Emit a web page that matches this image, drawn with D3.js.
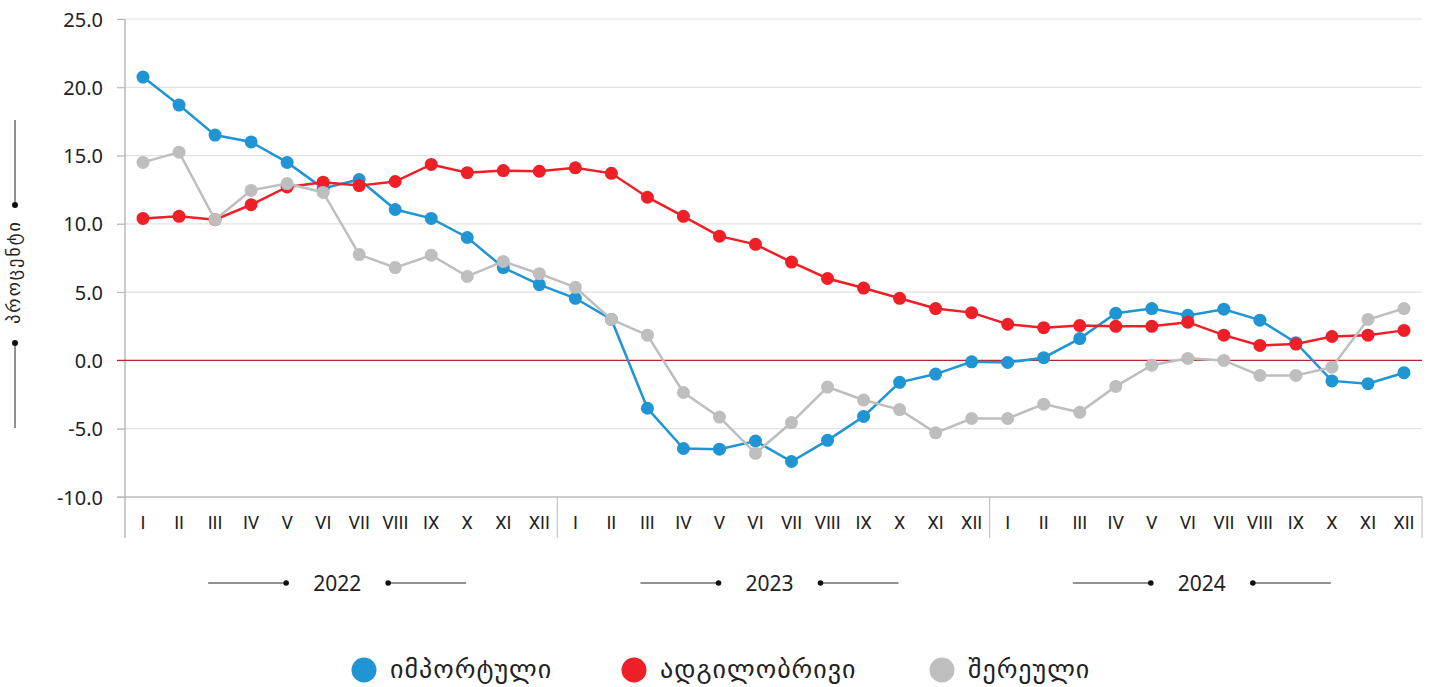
<!DOCTYPE html>
<html>
<head>
<meta charset="utf-8">
<script src="https://cdn.jsdelivr.net/npm/d3@7"></script>
<style>
  body { margin: 0; background: #fff; }
  text { font-family: "Noto Sans", "DejaVu Sans", sans-serif; fill: #222; }
  .geo { font-family: "DejaVu Sans", sans-serif; }
  .month { font-family: "Roboto", "Noto Sans", sans-serif; }
</style>
</head>
<body>
<div id="chart"></div>
<script>
// months, years and series (percent)
const months = ["I","II","III","IV","V","VI","VII","VIII","IX","X","XI","XII"];
const years = ["2022","2023","2024"];
const yTicks = [-10, -5, 0, 5, 10, 15, 20, 25];

const imported = [20.75, 18.7, 16.5, 16.0, 14.5, 12.6, 13.25, 11.05, 10.4, 9.0, 6.8, 5.55,
                  4.55, 3.0, -3.5, -6.45, -6.5, -5.9, -7.4, -5.85, -4.1, -1.6, -1.0, -0.1,
                  -0.15, 0.2, 1.6, 3.45, 3.8, 3.3, 3.75, 2.95, 1.3, -1.5, -1.7, -0.9];
const local = [10.4, 10.55, 10.3, 11.4, 12.7, 13.05, 12.8, 13.1, 14.35, 13.75, 13.9, 13.85,
               14.1, 13.7, 11.95, 10.55, 9.1, 8.5, 7.2, 6.0, 5.3, 4.55, 3.8, 3.5,
               2.65, 2.4, 2.55, 2.5, 2.5, 2.8, 1.85, 1.1, 1.2, 1.75, 1.85, 2.2];
const mixed = [14.5, 15.25, 10.3, 12.45, 12.95, 12.3, 7.75, 6.8, 7.7, 6.15, 7.25, 6.35,
               5.35, 3.0, 1.85, -2.35, -4.15, -6.8, -4.55, -1.95, -2.9, -3.6, -5.3, -4.25,
               -4.25, -3.2, -3.8, -1.9, -0.35, 0.15, 0.0, -1.1, -1.1, -0.5, 3.0, 3.8];

const seriesNames = ["იმპორტული", "ადგილობრივი", "შერეული"];
const colors = ["#1f95d3", "#ee1f26", "#bebebe"];
const seriesData = [imported, local, mixed];

const W = 1432, H = 687;
const mLeft = 125, mRight = 1422, mTop = 19, mBottom = 497;

const svg = d3.select("#chart").append("svg")
  .attr("width", W).attr("height", H);

const idx = d3.range(years.length * months.length);
const x = d3.scaleBand().domain(idx).range([mLeft, mRight]);
const y = d3.scaleLinear().domain([-10, 25]).range([mBottom, mTop]);
const cx = i => x(i) + x.bandwidth() / 2;

// grid
svg.append("g").selectAll("line").data(yTicks.filter(d => d !== 0 && d !== -10)).join("line")
  .attr("x1", mLeft - 8).attr("x2", mRight)
  .attr("y1", d => y(d)).attr("y2", d => y(d))
  .attr("stroke", "#e2e2e2").attr("stroke-width", 1.2);

// y axis (plain hyphen for negatives like the original)
const yAxis = svg.append("g").attr("transform", `translate(${mLeft},0)`)
  .call(d3.axisLeft(y).tickValues(yTicks).tickFormat(d => d.toFixed(1)).tickSize(8).tickSizeOuter(0));
yAxis.select(".domain").remove();
yAxis.selectAll(".tick line").attr("stroke", "#b5b5b5");
yAxis.selectAll(".tick text").attr("x", -22).attr("dy", "0.35em")
  .style("font-size", "20px").style("font-family", "Noto Sans, sans-serif").attr("fill", "#222");

// bottom line and vertical frame lines
svg.append("line").attr("x1", mLeft - 8).attr("x2", mRight)
  .attr("y1", mBottom).attr("y2", mBottom).attr("stroke", "#bdbdbd").attr("stroke-width", 1.3);
svg.append("line").attr("x1", mLeft).attr("x2", mLeft)
  .attr("y1", mTop).attr("y2", 538).attr("stroke", "#b8b8b8").attr("stroke-width", 1.5);
svg.append("g").selectAll("line").data([12, 24, 36]).join("line")
  .attr("x1", d => mLeft + d * x.step()).attr("x2", d => mLeft + d * x.step())
  .attr("y1", mBottom).attr("y2", 538)
  .attr("stroke", "#c4c4c4").attr("stroke-width", 1.2);

// zero line
svg.append("line").attr("x1", mLeft - 8).attr("x2", mRight)
  .attr("y1", y(0)).attr("y2", y(0)).attr("stroke", "#b3262b").attr("stroke-width", 1.2);

// month labels
svg.append("g").selectAll("text").data(idx).join("text")
  .attr("class", "month")
  .attr("x", d => cx(d)).attr("y", 529)
  .attr("text-anchor", "middle").style("font-size", "18px")
  .text(d => months[d % 12]);

// year labels with decorations
years.forEach((yr, k) => {
  const mid = mLeft + (k * 12 + 6) * x.step() - 4;
  const g = svg.append("g");
  g.append("text").attr("x", mid).attr("y", 591).attr("text-anchor", "middle")
    .style("font-size", "21px").text(yr);
  [[-51, -129], [51, 129]].forEach(([a, b]) => {
    g.append("line").attr("x1", mid + a).attr("x2", mid + b)
      .attr("y1", 583).attr("y2", 583).attr("stroke", "#222").attr("stroke-width", 1);
    g.append("circle").attr("cx", mid + a).attr("cy", 583).attr("r", 2.8).attr("fill", "#111");
  });
});

// series
const line = d3.line().x((d, i) => cx(i)).y(d => y(d));
seriesData.forEach((s, k) => {
  const g = svg.append("g");
  g.append("path").datum(s).attr("d", line)
    .attr("fill", "none").attr("stroke", colors[k]).attr("stroke-width", 2.5);
  g.selectAll("circle").data(s).join("circle")
    .attr("cx", (d, i) => cx(i)).attr("cy", d => y(d)).attr("r", 6.5)
    .attr("fill", colors[k]);
});

// y axis title
const yt = svg.append("g").attr("transform", "translate(15,272)");
yt.append("text").attr("class", "geo").attr("transform", "rotate(-90)")
  .attr("text-anchor", "middle").attr("dy", "0.3em")
  .style("font-size", "18px").style("letter-spacing", "2px").text("პროცენტი");
[[-67, -152], [71, 156]].forEach(([a, b]) => {
  yt.append("line").attr("x1", 0).attr("x2", 0).attr("y1", a).attr("y2", b)
    .attr("stroke", "#222").attr("stroke-width", 1);
  yt.append("circle").attr("cx", 0).attr("cy", a).attr("r", 3).attr("fill", "#111");
});

// legend
const legendPos = [364, 634, 942];
const lg = svg.append("g");
seriesNames.forEach((n, k) => {
  lg.append("circle").attr("cx", legendPos[k]).attr("cy", 670).attr("r", 12.5).attr("fill", colors[k]);
  lg.append("text").attr("class", "geo").attr("x", legendPos[k] + 26).attr("y", 670)
    .attr("dy", "0.3em").style("font-size", "26px").style("letter-spacing", "1px").text(n);
});
</script>
</body>
</html>
